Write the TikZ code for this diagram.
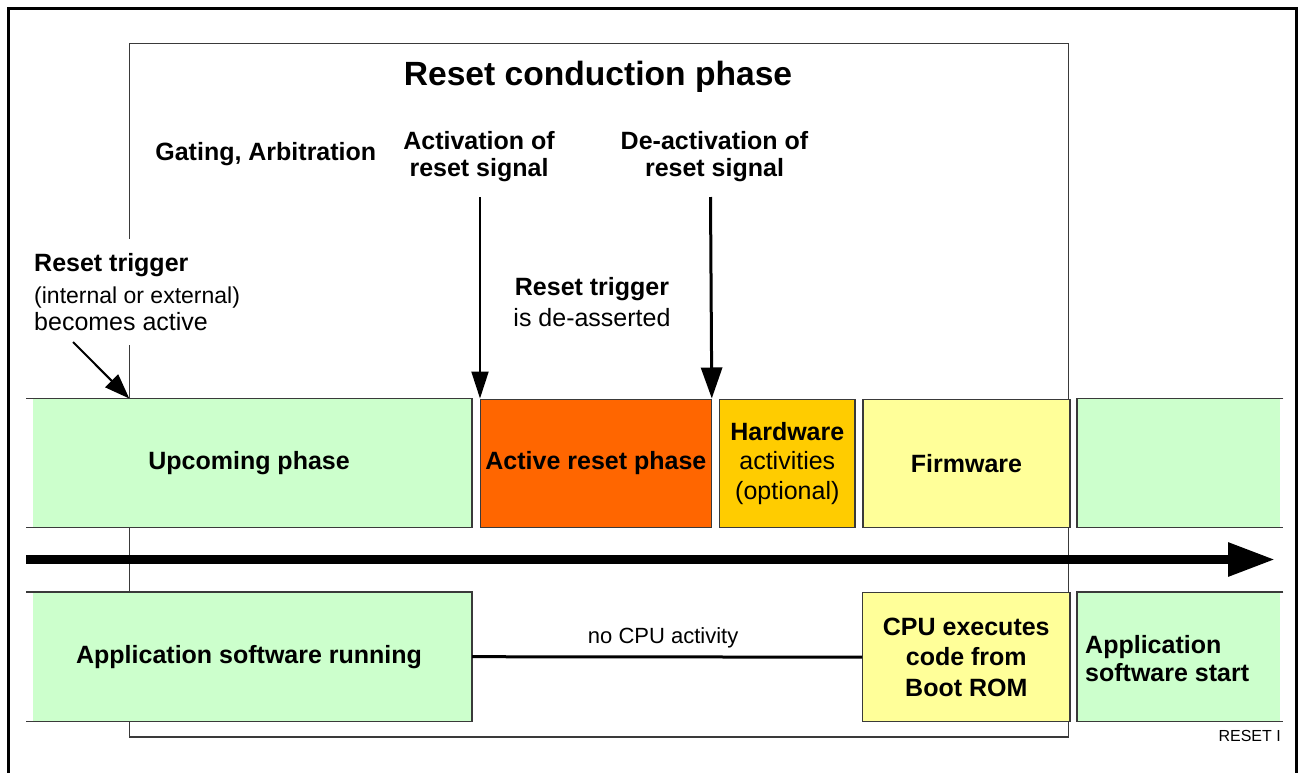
\documentclass[tikz,border=0pt]{standalone}
\usepackage{fontspec}
\setmainfont{Liberation Sans}
\usetikzlibrary{arrows.meta}

\definecolor{paleGreen}{HTML}{CCFFCC}
\definecolor{hotOrange}{HTML}{FF6600}
\definecolor{amber}{HTML}{FFCC00}
\definecolor{paleYellow}{HTML}{FFFF99}
\definecolor{edgeGrey}{HTML}{3A3A3A}

\newcommand{\boldtext}{\fontsize{25}{30}\selectfont\bfseries}
\newcommand{\plaintext}{\fontsize{25}{30}\selectfont}

\begin{document}
\begin{tikzpicture}[x=1pt,y=-1pt,
  every node/.style={inner sep=0pt},
  pbox/.style={anchor=north west, minimum height=128.5pt, align=center, font=\boldtext},
  edge/.style={draw=edgeGrey, line width=1.3pt},
  frameline/.style={draw=edgeGrey, line width=1.3pt},
  sigarrow/.style={line width=2pt, -{Triangle[length=27pt,width=17pt]}},
  deactarrow/.style={line width=3pt, -{Triangle[length=31pt,width=21pt]}},
  trigarrow/.style={line width=2pt, -{Triangle[length=25pt,width=18pt]}},
  timeline/.style={line width=9pt, -{Triangle[length=47pt,width=32pt]}},
  idleline/.style={line width=3pt}]

\useasboundingbox (0,0) rectangle (1299,772);

% outer frame
\draw[line width=3pt] (8.5,8.5) rectangle (1296.5,800);

% frame of the reset conduction phase
\draw[frameline] (129.3,43.3) rectangle (1068.5,737);

% ---------- upper row: phases ----------
\fill[paleGreen] (33,398.5) rectangle (471.7,527);
\node[pbox, minimum width=445.7pt] (up) at (26,398.5) {Upcoming phase};
\draw[edge] (up.north west) -- (up.north east) -- (up.south east) -- (up.south west);

\node[pbox, fill=hotOrange, edge, minimum width=230.5pt] (act) at (480,398.5) {Active reset phase};

\node[pbox, fill=amber, edge, minimum width=135.3pt] (hw) at (719,398.5)
  {Hardware\\[-0.7pt]\mdseries activities\\[-0.7pt]\mdseries (optional)};

\node[pbox, fill=paleYellow, edge, minimum width=207pt] (fw) at (862.3,398.5) {Firmware};

\fill[paleGreen] (1077,398.5) rectangle (1280,527);
\node[pbox, minimum width=206pt] (nxt) at (1077,398.5) {};
\draw[edge] (nxt.north east) -- (nxt.north west) -- (nxt.south west) -- (nxt.south east);

% ---------- lower row: CPU view ----------
\fill[paleGreen] (33,592) rectangle (471.7,721);
\node[pbox, minimum width=445.7pt, minimum height=129pt] (apprun) at (26,592) {Application software running};
\draw[edge] (apprun.north west) -- (apprun.north east) -- (apprun.south east) -- (apprun.south west);

\node[pbox, fill=paleYellow, edge, minimum width=207.3pt, minimum height=129pt] (cpu) at (862,592)
  {CPU executes\\[0.7pt]code from\\[0.7pt]Boot ROM};

\fill[paleGreen] (1077,592) rectangle (1280,721);
\node[pbox, minimum width=206pt, minimum height=129pt] (appstart) at (1077,592) {};
\draw[edge] (appstart.north east) -- (appstart.north west) -- (appstart.south west) -- (appstart.south east);
\node[font=\boldtext, align=left, anchor=base west] (appstartlbl) at (1085,681.7)
  {Application\\[-1.6pt]software start};

\draw[idleline] (apprun.east) -- node[pos=0.49, anchor=base, yshift=13.5pt, font=\fontsize{22}{26}\selectfont] (idle) {no CPU activity} (cpu.west);

% ---------- time axis ----------
\coordinate (t0) at (26,559.5);
\coordinate (t1) at (1275,559.5);
\draw[timeline] (t0) -- (t1);

% ---------- headings ----------
\node[font=\fontsize{33.6}{40}\selectfont\bfseries, anchor=base] (title) at (598,85) {Reset conduction phase};
\node[font=\boldtext, anchor=base] (gating) at (265.8,160) {Gating, Arbitration};
\node[font=\boldtext, align=center, anchor=base] (actlbl) at (479,176.7) {Activation of\\[-2.6pt]reset signal};
\node[font=\boldtext, align=center, anchor=base] (deactlbl) at (714.5,176.7) {De-activation of\\[-2.6pt]reset signal};

\node[font=\plaintext, align=left, anchor=base west, fill=white, inner xsep=4pt, inner ysep=15pt] (trigon) at (30,330)
  {\textbf{Reset trigger}\\[1.6pt]{\fontsize{23}{28}\selectfont (internal or external)}\\[-3.3pt]becomes active};
\node[font=\plaintext, align=center, anchor=base] (trigoff) at (592,326.7)
  {\textbf{Reset trigger}\\[1.7pt]is de-asserted};

% ---------- event arrows ----------
\coordinate (actsrc) at (480,197);
\coordinate (deactsrc) at (710.5,197);
\coordinate (trigsrc) at (73,342);
\coordinate (trigtip) at (129.3,398.5);
\draw[sigarrow] (actsrc) -- (act.north west);
\draw[deactarrow] (deactsrc) -- (act.north east);
\draw[trigarrow] (trigsrc) -- (trigtip);

\node[font=\fontsize{16}{19}\selectfont, anchor=base east] (tag) at (1281,741.7) {RESET I};
\end{tikzpicture}
\end{document}
